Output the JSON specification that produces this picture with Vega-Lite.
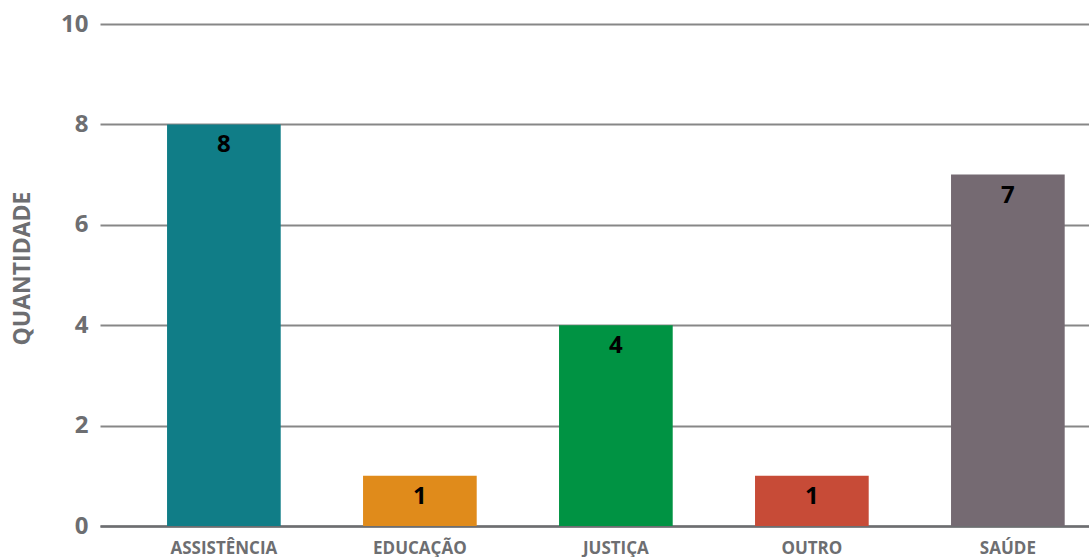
{
  "$schema": "https://vega.github.io/schema/vega-lite/v6.json",
  "width": 989,
  "height": 502,
  "autosize": {"type": "none"},
  "padding": {"left": 100, "top": 24, "right": 0, "bottom": 31},
  "background": "white",
  "config": {"view": {"stroke": null}, "font": "Open Sans"},
  "data": {"values": [
    {"categoria": "ASSISTÊNCIA", "quantidade": 8},
    {"categoria": "EDUCAÇÃO", "quantidade": 1},
    {"categoria": "JUSTIÇA", "quantidade": 4},
    {"categoria": "OUTRO", "quantidade": 1},
    {"categoria": "SAÚDE", "quantidade": 7}
  ]},
  "encoding": {
    "x": {
      "field": "categoria", "type": "nominal", "sort": null,
      "scale": {"paddingInner": 0.42, "paddingOuter": 0.233, "align": 0.734},
      "axis": {
        "title": null, "labelAngle": 0, "ticks": false,
        "domain": true, "domainColor": "#6d6e71", "domainWidth": 2.5,
        "labelFont": "Open Sans", "labelFontWeight": "bold", "labelFontSize": 17,
        "labelColor": "#6d6e71", "labelPadding": 14, "labelBaseline": "top"
      }
    },
    "y": {
      "field": "quantidade", "type": "quantitative",
      "scale": {"domain": [0, 10], "nice": false},
      "axis": {
        "values": [0, 2, 4, 6, 8, 10], "title": "QUANTIDADE",
        "ticks": false, "domain": false,
        "grid": true, "gridColor": "#878787", "gridWidth": 2,
        "labelFont": "Open Sans", "labelFontWeight": "bold", "labelFontSize": 24,
        "labelColor": "#6d6e71", "labelPadding": 12,
        "titleFont": "Open Sans", "titleFontWeight": "bold", "titleFontSize": 23,
        "titleColor": "#6d6e71", "titleX": -66, "titleY": 244, "titleAngle": -90,
        "titleAlign": "center", "titleBaseline": "bottom"
      }
    }
  },
  "layer": [
    {
      "mark": {"type": "bar"},
      "encoding": {
        "color": {
          "field": "categoria", "type": "nominal", "sort": null, "legend": null,
          "scale": {
            "domain": ["ASSISTÊNCIA", "EDUCAÇÃO", "JUSTIÇA", "OUTRO", "SAÚDE"],
            "range": ["#107d87", "#e08b1b", "#009343", "#c74b37", "#756a72"]
          }
        }
      }
    },
    {
      "mark": {"type": "text", "baseline": "top", "dy": 9, "font": "Open Sans", "fontWeight": "bold", "fontSize": 24, "color": "#000000"},
      "encoding": {"text": {"field": "quantidade", "type": "quantitative"}}
    }
  ]
}
